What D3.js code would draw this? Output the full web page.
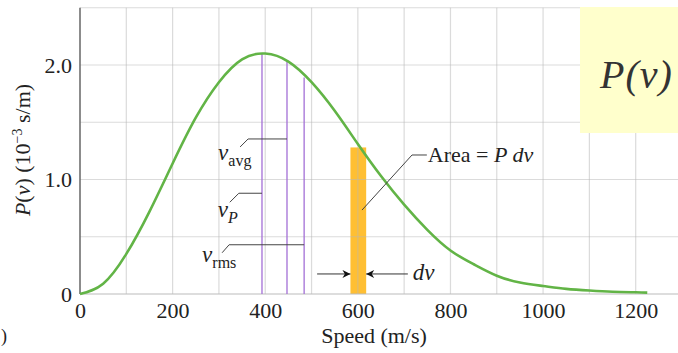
<!DOCTYPE html>
<html>
<head>
<meta charset="utf-8">
<script src="https://cdn.jsdelivr.net/npm/d3@7"></script>
<style>
  body { margin: 0; background: #fff; }
  svg { display: block; font-family: "Liberation Serif", serif; }
</style>
</head>
<body>
<div id="chart"></div>
<script>
// speed (m/s) and P(v) (10^-3 s/m)
const speeds = [0, 50, 100, 150, 200, 250, 300, 350, 400, 450, 500, 550, 600, 650,
  700, 750, 800, 850, 900, 950, 1000, 1050, 1100, 1150, 1200, 1225];
const probs = [0, 0.09, 0.35, 0.72, 1.14, 1.54, 1.85, 2.05, 2.10, 2.03, 1.85, 1.60, 1.31, 1.03,
  0.78, 0.56, 0.38, 0.26, 0.16, 0.10, 0.07, 0.045, 0.03, 0.02, 0.015, 0.012];

// characteristic speeds: v_P, v_avg, v_rms and the curve height above each
const markerNames = ['P', 'avg', 'rms'];
const markerSpeeds = [393, 447, 484];
const markerTops = [2.10, 2.03, 1.89];

// the dv strip
const stripRange = [584, 618];
const stripTop = 1.28;

const xTicks = [0, 200, 400, 600, 800, 1000, 1200];
const yTicks = [0, 1.0, 2.0];

const width = 678, height = 353;

const svg = d3.select('#chart').append('svg')
  .attr('width', width)
  .attr('height', height);

const x = d3.scaleLinear().domain([0, 1300]).range([80, 682]);
const y = d3.scaleLinear().domain([0, 2.5]).range([294, 7.75]);

// grid
const gridColor = '#b8b8b8';
const grid = svg.append('g');

// strip goes under the grid so the 600 line shows through it
svg.insert('rect', 'g')
  .attr('x', x(stripRange[0]))
  .attr('y', y(stripTop))
  .attr('width', x(stripRange[1]) - x(stripRange[0]))
  .attr('height', y(0) - y(stripTop))
  .attr('fill', '#ffbf33');

grid.selectAll('line.v')
  .data(d3.range(100, 1301, 100))
  .join('line')
  .attr('x1', d => x(d)).attr('x2', d => x(d))
  .attr('y1', y(2.5)).attr('y2', y(0))
  .attr('stroke', gridColor).attr('stroke-opacity', 0.5).attr('stroke-width', 1.2);

grid.selectAll('line.h')
  .data(d3.range(0.5, 2.51, 0.5))
  .join('line')
  .attr('x1', x(0)).attr('x2', width)
  .attr('y1', d => y(d)).attr('y2', d => y(d))
  .attr('stroke', gridColor).attr('stroke-opacity', 0.5).attr('stroke-width', 1.2);

// axes
svg.append('line')
  .attr('x1', x(0)).attr('x2', width)
  .attr('y1', y(0)).attr('y2', y(0))
  .attr('stroke', '#bbb').attr('stroke-width', 1.2);
svg.append('line')
  .attr('x1', x(0)).attr('x2', x(0))
  .attr('y1', y(2.5)).attr('y2', y(0))
  .attr('stroke', '#666').attr('stroke-width', 1.5);

const xAxis = svg.append('g')
  .attr('transform', `translate(0,${y(0)})`)
  .call(d3.axisBottom(x).tickValues(xTicks).tickSize(0).tickPadding(8).tickFormat(d3.format('d')));
xAxis.select('.domain').remove();
xAxis.selectAll('text')
  .attr('font-family', '"Liberation Serif", serif')
  .attr('font-size', 22).attr('fill', '#222');

const yAxis = svg.append('g')
  .attr('transform', `translate(${x(0)},0)`)
  .call(d3.axisLeft(y).tickValues(yTicks).tickSize(0).tickPadding(8)
    .tickFormat(d => d === 0 ? '0' : d3.format('.1f')(d)));
yAxis.select('.domain').remove();
yAxis.selectAll('text')
  .attr('font-family', '"Liberation Serif", serif')
  .attr('font-size', 22).attr('fill', '#222');

// axis titles
svg.append('text')
  .attr('x', 374).attr('y', 343)
  .attr('text-anchor', 'middle')
  .attr('font-size', 22).attr('fill', '#222')
  .text('Speed (m/s)');

const yTitle = svg.append('text')
  .attr('transform', 'translate(30,150) rotate(-90)')
  .attr('text-anchor', 'middle')
  .attr('font-size', 22).attr('fill', '#222');
yTitle.append('tspan').attr('font-style', 'italic').text('P');
yTitle.append('tspan').text('(');
yTitle.append('tspan').attr('font-style', 'italic').text('v');
yTitle.append('tspan').text(') (10');
yTitle.append('tspan').attr('font-size', 14).attr('dy', -8).text('\u22123');
yTitle.append('tspan').attr('dy', 8).text(' s/m)');

// stray glyph at lower left
svg.append('text')
  .attr('x', 1).attr('y', 342)
  .attr('font-size', 18).attr('fill', '#222')
  .text(')');

// purple speed markers
svg.selectAll('line.marker')
  .data(markerSpeeds)
  .join('line')
  .attr('x1', d => x(d)).attr('x2', d => x(d))
  .attr('y1', y(0)).attr('y2', (d, i) => y(markerTops[i]))
  .attr('stroke', '#a36fd6').attr('stroke-width', 1.3);

// curve
const curveData = speeds.map((s, i) => ({ s, p: probs[i] }));
svg.append('path')
  .datum(curveData)
  .attr('fill', 'none')
  .attr('stroke', '#62b446')
  .attr('stroke-width', 2.6)
  .attr('d', d3.line().x(d => x(d.s)).y(d => y(d.p)).curve(d3.curveNatural));

// leaders and labels for the characteristic speeds
// start = where the elbow sits (speed, P), tick = short diagonal, label = offset of the "v"
const leaders = [
  { name: 'avg', start: [363, 1.354], end: 447, tick: [-8, 8], label: [-30, 21] },
  { name: 'P', start: [343, 0.88], end: 393, tick: [-9, 9], label: [-21, 24] },
  { name: 'rms', start: [322, 0.43], end: 484, tick: [-7, 8], label: [-27, 17] },
];
const leaderColor = '#444';
leaders.forEach(l => {
  const sx = x(l.start[0]), sy = y(l.start[1]);
  svg.append('line')
    .attr('x1', sx).attr('x2', x(l.end))
    .attr('y1', sy).attr('y2', sy)
    .attr('stroke', leaderColor).attr('stroke-width', 1);
  svg.append('line')
    .attr('x1', sx).attr('x2', sx + l.tick[0])
    .attr('y1', sy).attr('y2', sy + l.tick[1])
    .attr('stroke', leaderColor).attr('stroke-width', 1);
  const t = svg.append('text')
    .attr('x', sx + l.label[0]).attr('y', sy + l.label[1])
    .attr('font-size', 23).attr('fill', '#222');
  t.append('tspan').attr('font-style', 'italic').text('v');
  t.append('tspan')
    .attr('font-size', 16).attr('dy', 6)
    .attr('font-style', l.name === 'P' ? 'italic' : 'normal')
    .text(l.name);
});

// Area = P dv leader
const areaElbow = [717, 1.214], areaEnd = [609, 0.733], areaTextAt = [749, 1.214];
svg.append('polyline')
  .attr('points', [[x(areaEnd[0]), y(areaEnd[1])], [x(areaElbow[0]), y(areaElbow[1])], [x(areaTextAt[0]), y(areaElbow[1])]]
    .map(p => p.join(',')).join(' '))
  .attr('fill', 'none').attr('stroke', leaderColor).attr('stroke-width', 1);
const areaText = svg.append('text')
  .attr('x', x(areaTextAt[0]) + 1).attr('y', y(areaTextAt[1]) + 7)
  .attr('font-size', 22).attr('fill', '#222');
areaText.append('tspan').text('Area = ');
areaText.append('tspan').attr('font-style', 'italic').text('P dv');

// dv arrows
const defs = svg.append('defs');
defs.append('marker')
  .attr('id', 'arrow')
  .attr('viewBox', '0 0 10 10')
  .attr('refX', 10).attr('refY', 5)
  .attr('markerWidth', 10).attr('markerHeight', 8)
  .attr('markerUnits', 'userSpaceOnUse')
  .attr('orient', 'auto')
  .append('path').attr('d', 'M0,0 L10,5 L0,10 L3,5 Z').attr('fill', '#111');

const arrowP = 0.175;
svg.append('line')
  .attr('x1', x(512)).attr('x2', x(stripRange[0]))
  .attr('y1', y(arrowP)).attr('y2', y(arrowP))
  .attr('stroke', '#333').attr('stroke-width', 1)
  .attr('marker-end', 'url(#arrow)');
svg.append('line')
  .attr('x1', x(708)).attr('x2', x(stripRange[1]))
  .attr('y1', y(arrowP)).attr('y2', y(arrowP))
  .attr('stroke', '#333').attr('stroke-width', 1)
  .attr('marker-end', 'url(#arrow)');
svg.append('text')
  .attr('x', x(708) + 5).attr('y', y(arrowP) + 6)
  .attr('font-size', 23).attr('font-style', 'italic').attr('fill', '#222')
  .text('dv');

// P(v) tag box
svg.append('rect')
  .attr('x', 580).attr('y', 7)
  .attr('width', width - 580).attr('height', 126)
  .attr('fill', '#ffffcc');
svg.append('text')
  .attr('x', 600).attr('y', 88)
  .attr('font-family', '"Liberation Serif", serif')
  .attr('font-style', 'italic')
  .attr('letter-spacing', 1)
  .attr('font-size', 40).attr('fill', '#333')
  .text('P(v)');
</script>
</body>
</html>
